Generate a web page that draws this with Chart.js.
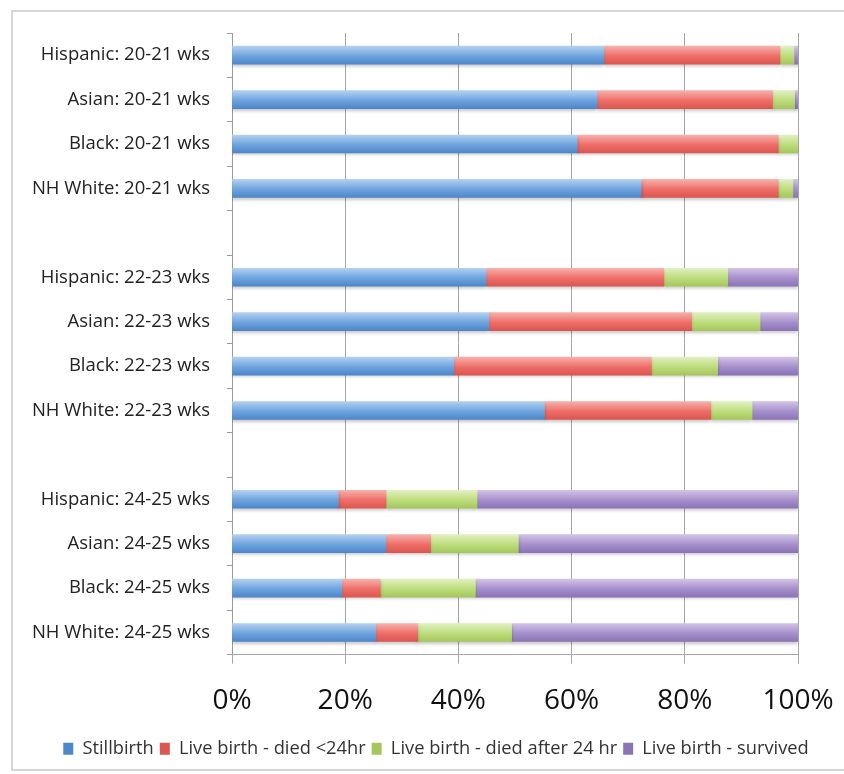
<!DOCTYPE html>
<html>
<head>
<meta charset="utf-8">
<script src="https://cdn.jsdelivr.net/npm/chart.js@4/dist/chart.umd.min.js"></script>
<style>
  html, body { margin: 0; padding: 0; background: #ffffff; }
  body { width: 844px; height: 774px; position: relative; overflow: hidden; }
  #frame {
    position: absolute; left: 11px; top: 10px; width: 1000px; height: 761px;
    border-top: 2px solid #d6d6d6; border-left: 2px solid #d6d6d6;
    border-bottom: 2px solid #d6d6d6; border-right: none; box-sizing: border-box;
  }
  #wrap { position: absolute; left: 0; top: 0; width: 844px; height: 774px; }
</style>
</head>
<body>
<div id="frame"></div>
<div id="wrap"><canvas id="chart" width="844" height="774"></canvas></div>
<script>
// Row labels, top to bottom; empty strings are spacer rows between gestational-age groups
const categories = [
  'Hispanic: 20-21 wks', 'Asian: 20-21 wks', 'Black: 20-21 wks', 'NH White: 20-21 wks',
  '',
  'Hispanic: 22-23 wks', 'Asian: 22-23 wks', 'Black: 22-23 wks', 'NH White: 22-23 wks',
  '',
  'Hispanic: 24-25 wks', 'Asian: 24-25 wks', 'Black: 24-25 wks', 'NH White: 24-25 wks'
];

const seriesNames = [
  'Stillbirth',
  'Live birth - died <24hr',
  'Live birth - died after 24 hr',
  'Live birth - survived'
];

// Percentage of outcomes per row (each row sums to 100)
const stillbirth = [65.7, 64.5, 61.0, 72.3, null, 44.9, 45.4, 39.2, 55.2, null, 18.8, 27.2, 19.4, 25.4];
const diedUnder24 = [31.1, 31.0, 35.5, 24.2, null, 31.4, 35.8, 34.9, 29.4, null, 8.4, 7.9, 6.8, 7.4];
const diedAfter24 = [2.5, 3.9, 3.5, 2.6, null, 11.3, 12.1, 11.7, 7.3, null, 16.1, 15.5, 16.8, 16.6];
const survived = [0.7, 0.6, 0.0, 0.9, null, 12.4, 6.7, 14.2, 8.1, null, 56.7, 49.4, 57.0, 50.6];

const xTicks = [0, 20, 40, 60, 80, 100];

// Glossy gradient stops per series: top highlight, middle, bottom
const palettes = [
  ['#b3d0f0', '#6da3de', '#4d86c9'],
  ['#f7b0ab', '#ee6e67', '#db5650'],
  ['#e0f0c0', '#bddc7c', '#a4c75c'],
  ['#d2c3e6', '#a58fcb', '#8c73b6']
];

const BAR = 18;

function gradientFor(seriesIndex) {
  return function (ctx) {
    const chart = ctx.chart;
    const p = palettes[seriesIndex];
    const ys = chart.scales && chart.scales.y;
    if (!chart.chartArea || !ys || ctx.type !== 'data') return p[1];
    const cy = ys.getPixelForValue(ctx.dataIndex);
    const g = chart.ctx.createLinearGradient(0, cy - BAR / 2, 0, cy + BAR / 2);
    g.addColorStop(0, p[0]);
    g.addColorStop(0.55, p[1]);
    g.addColorStop(1, p[2]);
    return g;
  };
}

const seriesValues = [stillbirth, diedUnder24, diedAfter24, survived];

const datasets = seriesNames.map((name, i) => ({
  label: name,
  data: seriesValues[i],
  backgroundColor: gradientFor(i),
  borderWidth: 0,
  barThickness: BAR
}));

// Soft drop shadow under the bars
const barShadow = {
  id: 'barShadow',
  beforeDatasetsDraw(chart) {
    const c = chart.ctx;
    c.save();
    c.shadowColor = 'rgba(0,0,0,0.22)';
    c.shadowBlur = 3;
    c.shadowOffsetY = 2;
  },
  afterDatasetsDraw(chart) {
    chart.ctx.restore();
  }
};

// Nudge the legend row a little to the right of the canvas centre
const legendShift = {
  id: 'legendShift',
  afterLayout(chart) {
    if (chart.legend) {
      chart.legend.left += 37;
      chart.legend.right += 37;
    }
  }
};

new Chart(document.getElementById('chart'), {
  type: 'bar',
  data: { labels: categories, datasets: datasets },
  plugins: [barShadow, legendShift],
  options: {
    indexAxis: 'y',
    responsive: false,
    animation: false,
    layout: { padding: { left: 0, right: 46, top: 33, bottom: 6 } },
    scales: {
      x: {
        stacked: true,
        min: 0,
        max: 100,
        afterBuildTicks(scale) {
          scale.ticks = xTicks.map(v => ({ value: v }));
        },
        afterFit(scale) {
          scale.height = 79;
          scale.paddingLeft = 0;
          scale.paddingRight = 0;
        },
        grid: {
          color: '#a6a6a6',
          lineWidth: 1,
          drawTicks: true,
          tickLength: 9,
          tickColor: '#a6a6a6'
        },
        border: { display: true, color: '#a6a6a6', width: 1 },
        ticks: {
          padding: 21,
          maxRotation: 0,
          color: '#111111',
          font: { family: 'Open Sans', size: 28 },
          callback: (v) => v + '%'
        }
      },
      y: {
        stacked: true,
        afterFit(scale) {
          scale.width = 232;
          scale.paddingTop = 0;
          scale.paddingBottom = 0;
        },
        grid: {
          drawOnChartArea: false,
          drawTicks: true,
          tickLength: 5,
          tickColor: '#9a9a9a',
          offset: true
        },
        border: { display: true, color: '#9a9a9a', width: 1 },
        ticks: {
          padding: 17,
          color: '#222222',
          autoSkip: false,
          font: { family: 'Open Sans', size: 18.5 }
        }
      }
    },
    plugins: {
      legend: {
        position: 'bottom',
        labels: {
          boxWidth: 10,
          boxHeight: 12,
          padding: 6,
          color: '#333333',
          font: { family: 'Open Sans', size: 18.3 }
        }
      },
      tooltip: { enabled: false }
    }
  }
});
</script>
</body>
</html>
